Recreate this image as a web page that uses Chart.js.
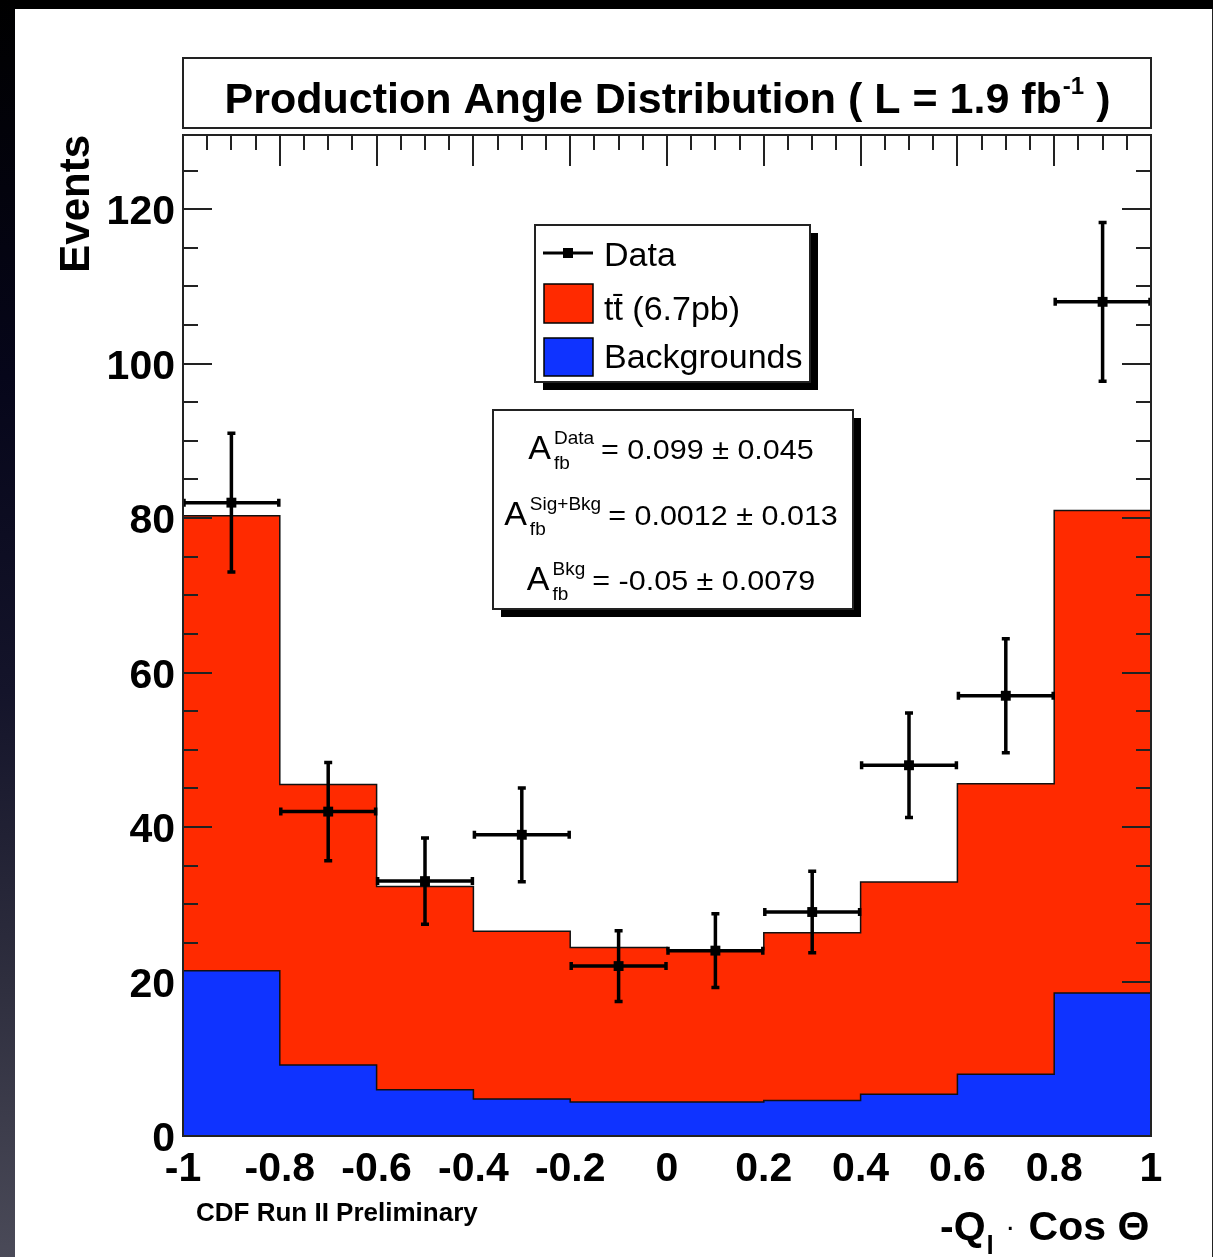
<!DOCTYPE html>
<html>
<head>
<meta charset="utf-8">
<title>Production Angle Distribution</title>
<script src="https://cdn.jsdelivr.net/npm/chart.js@4.4.1/dist/chart.umd.min.js"></script>
<style>
  html, body { margin: 0; padding: 0; background: #000; overflow: hidden; }
  #strip {
    position: absolute; left: 0; top: 0; width: 15px; height: 1257px;
    background: linear-gradient(to bottom, #000 0%, #06061a 30%, #14142a 55%, #2e2e3e 78%, #4a4a58 100%);
  }
  #panel {
    position: absolute; left: 15px; top: 9px; width: 1197px; height: 1248px;
    background: #fff; border-right: 1px solid #222;
  }
  #chart { position: absolute; left: 0; top: 0; }
</style>
</head>
<body>
<div id="strip"></div>
<div id="panel"></div>
<canvas id="chart" width="1213" height="1257"></canvas>
<script>
// bins of -Q_l * cos(theta)
const binEdges = [-1, -0.8, -0.6, -0.4, -0.2, 0, 0.2, 0.4, 0.6, 0.8, 1];
const binCenters = [-0.9, -0.7, -0.5, -0.3, -0.1, 0.1, 0.3, 0.5, 0.7, 0.9];

// observed events and their errors
const dataCounts = [82, 42, 33, 39, 22, 24, 29, 48, 57, 108];
const dataErrors = [9.1, 6.5, 5.7, 6.2, 4.7, 4.9, 5.4, 6.9, 7.5, 10.4];

// expectations (stacked)
const bkgValues = [21.4, 9.2, 6.0, 4.8, 4.4, 4.4, 4.6, 5.4, 8.0, 18.5];
const ttbarValues = [58.9, 36.3, 26.3, 21.7, 20.0, 19.7, 21.7, 27.5, 37.6, 62.5];

const legendLabels = ['Data', 'tt\u0304 (6.7pb)', 'Backgrounds'];
const afbNames = ['Data', 'Sig+Bkg', 'Bkg'];
const afbValues = ['0.099 \u00b1 0.045', '0.0012 \u00b1 0.013', '-0.05 \u00b1 0.0079'];

const FONT = '"Liberation Sans", Arial, Helvetica, sans-serif';
const RED = '#ff2a00';
const BLUE = '#0f33ff';

// histogram as a step line: one point per left edge, plus the closing edge
function stepPoints(values) {
    const pts = values.map((v, i) => ({ x: binEdges[i], y: v }));
    pts.push({ x: binEdges[binEdges.length - 1], y: values[values.length - 1] });
    return pts;
}

function drawAxisTicks(chart) {
    const { ctx, chartArea: a, scales: { x, y } } = chart;
    ctx.save();
    ctx.strokeStyle = '#222';
    ctx.lineWidth = 2;
    ctx.beginPath();
    for (let i = 0; i <= 40; i++) {
        const px = Math.round(x.getPixelForValue(-1 + i * 0.05));
        const len = i % 4 === 0 ? 31 : 15;
        ctx.moveTo(px, a.top); ctx.lineTo(px, a.top + len);
        ctx.moveTo(px, a.bottom); ctx.lineTo(px, a.bottom - len);
    }
    for (let v = 0; v <= 125; v += 5) {
        const py = Math.round(y.getPixelForValue(v));
        const len = v % 20 === 0 ? 29 : 15;
        ctx.moveTo(a.left, py); ctx.lineTo(a.left + len, py);
        ctx.moveTo(a.right, py); ctx.lineTo(a.right - len, py);
    }
    ctx.stroke();
    ctx.restore();
}

function drawErrorBars(chart) {
    const { ctx, scales: { x, y } } = chart;
    ctx.save();
    ctx.strokeStyle = '#000';
    ctx.lineWidth = 3.5;
    binCenters.forEach((c, i) => {
        const cx = x.getPixelForValue(c);
        const cy = y.getPixelForValue(dataCounts[i]);
        const x0 = x.getPixelForValue(binEdges[i]);
        const x1 = x.getPixelForValue(binEdges[i + 1]);
        const yt = y.getPixelForValue(dataCounts[i] + dataErrors[i]);
        const yb = y.getPixelForValue(dataCounts[i] - dataErrors[i]);
        ctx.beginPath();
        ctx.moveTo(x0, cy); ctx.lineTo(x1, cy);
        ctx.moveTo(cx, yt); ctx.lineTo(cx, yb);
        ctx.moveTo(x0 + 1, cy - 4); ctx.lineTo(x0 + 1, cy + 4);
        ctx.moveTo(x1 - 1, cy - 4); ctx.lineTo(x1 - 1, cy + 4);
        ctx.moveTo(cx - 4, yt + 1); ctx.lineTo(cx + 4, yt + 1);
        ctx.moveTo(cx - 4, yb - 1); ctx.lineTo(cx + 4, yb - 1);
        ctx.stroke();
    });
    ctx.restore();
}

function shadowBox(ctx, x, y, w, h, off) {
    ctx.fillStyle = '#000';
    ctx.fillRect(x + off, y + off, w, h);
    ctx.fillStyle = '#fff';
    ctx.fillRect(x, y, w, h);
    ctx.strokeStyle = '#222';
    ctx.lineWidth = 2;
    ctx.strokeRect(x, y, w, h);
}

// A_fb^{name} = value, centred on cx
function afbRow(ctx, name, value, cx, base) {
    const stretch = 1.13;
    ctx.font = '34px ' + FONT;
    const wA = ctx.measureText('A').width;
    ctx.font = '19px ' + FONT;
    const wSup = ctx.measureText(name).width;
    const wSub = ctx.measureText('fb').width;
    ctx.font = '27px ' + FONT;
    const wVal = ctx.measureText('= ' + value).width * stretch;
    const wScript = Math.max(wSup, wSub);
    const total = wA + 3 + wScript + 7 + wVal;
    let xx = cx - total / 2;
    ctx.fillStyle = '#000';
    ctx.textAlign = 'left';
    ctx.textBaseline = 'alphabetic';
    ctx.font = '34px ' + FONT;
    ctx.fillText('A', xx, base);
    xx += wA + 3;
    ctx.font = '19px ' + FONT;
    ctx.fillText(name, xx, base - 15);
    ctx.fillText('fb', xx, base + 10);
    xx += wScript + 7;
    ctx.save();
    ctx.translate(xx, base);
    ctx.scale(stretch, 1);
    ctx.font = '27px ' + FONT;
    ctx.fillText('= ' + value, 0, 0);
    ctx.restore();
}

function drawDecor(chart) {
    const { ctx, chartArea: a } = chart;
    const ds = chart.data.datasets;
    ctx.save();

    // frame
    ctx.strokeStyle = '#222';
    ctx.lineWidth = 2;
    ctx.strokeRect(a.left, a.top, a.right - a.left, a.bottom - a.top);

    // title box
    ctx.fillStyle = '#fff';
    ctx.fillRect(a.left, 58, a.right - a.left, 70);
    ctx.strokeRect(a.left, 58, a.right - a.left, 70);
    ctx.fillStyle = '#000';
    ctx.textBaseline = 'alphabetic';
    ctx.textAlign = 'left';
    const t1 = 'Production Angle Distribution ( L = 1.9 fb';
    const t2 = '-1';
    const t3 = ' )';
    ctx.font = 'bold 43px ' + FONT;
    const w1 = ctx.measureText(t1).width, w3 = ctx.measureText(t3).width;
    ctx.font = 'bold 24px ' + FONT;
    const w2 = ctx.measureText(t2).width;
    let tx = (a.left + a.right) / 2 - (w1 + w2 + w3) / 2;
    ctx.font = 'bold 43px ' + FONT;
    ctx.fillText(t1, tx, 113);
    ctx.font = 'bold 24px ' + FONT;
    ctx.fillText(t2, tx + w1 + 1, 94);
    ctx.font = 'bold 43px ' + FONT;
    ctx.fillText(t3, tx + w1 + w2 + 1, 113);

    // legend
    shadowBox(ctx, 535, 225, 275, 157, 8);
    ctx.strokeStyle = '#000';
    ctx.lineWidth = 3;
    ctx.beginPath();
    ctx.moveTo(543, 253); ctx.lineTo(593, 253);
    ctx.stroke();
    ctx.fillStyle = '#000';
    ctx.fillRect(563, 248, 10, 10);
    ctx.lineWidth = 1.5;
    ctx.fillStyle = ds[2].backgroundColor;
    ctx.fillRect(544, 284, 49, 39);
    ctx.strokeRect(544, 284, 49, 39);
    ctx.fillStyle = ds[1].backgroundColor;
    ctx.fillRect(544, 338, 49, 38);
    ctx.strokeRect(544, 338, 49, 38);
    ctx.fillStyle = '#000';
    ctx.font = '34px ' + FONT;
    ctx.fillText(ds[0].label, 604, 266);
    ctx.fillText(ds[2].label, 604, 320);
    ctx.fillText(ds[1].label, 604, 368);

    // asymmetry box
    shadowBox(ctx, 493, 410, 360, 199, 8);
    const rowBase = [459, 525, 590];
    afbNames.forEach((n, i) => afbRow(ctx, n, afbValues[i], 671, rowBase[i]));

    // axis titles
    ctx.fillStyle = '#000';
    ctx.save();
    ctx.translate(89, 135);
    ctx.rotate(-Math.PI / 2);
    ctx.textAlign = 'right';
    ctx.font = 'bold 42px ' + FONT;
    ctx.fillText('Events', 0, 0);
    ctx.restore();

    ctx.textAlign = 'left';
    ctx.font = 'bold 41px ' + FONT;
    ctx.fillText('-Q', 940, 1240);
    let qx = 940 + ctx.measureText('-Q').width + 1;
    ctx.font = 'bold 26px ' + FONT;
    ctx.fillText('l', qx, 1254);
    qx += ctx.measureText('l').width;
    ctx.font = 'bold 41px ' + FONT;
    const sp = ctx.measureText(' ').width;
    ctx.font = '30px ' + FONT;
    ctx.fillText('\u00b7', qx + sp, 1236);
    const dotW = ctx.measureText('\u00b7').width;
    ctx.font = 'bold 41px ' + FONT;
    ctx.fillText(' Cos \u0398', qx + sp + dotW + 2, 1240);

    ctx.font = 'bold 26px ' + FONT;
    ctx.fillText('CDF Run II Preliminary', 196, 1221);

    ctx.restore();
}

const rootStylePlugin = {
    id: 'rootStyle',
    afterDatasetDraw(chart, args) {
        // ticks sit above the signal fill but under the background fill
        if (args.index === 2) drawAxisTicks(chart);
    },
    afterDatasetsDraw(chart) {
        drawErrorBars(chart);
    },
    afterDraw(chart) {
        drawDecor(chart);
    }
};

new Chart(document.getElementById('chart'), {
    type: 'line',
    data: {
        datasets: [
            {
                type: 'scatter',
                label: legendLabels[0],
                stack: 'data',
                data: binCenters.map((c, i) => ({ x: c, y: dataCounts[i] })),
                pointStyle: 'rect',
                pointRadius: 7,
                backgroundColor: '#000',
                borderColor: '#000',
                borderWidth: 0
            },
            {
                label: legendLabels[2],
                data: stepPoints(bkgValues),
                stepped: 'before',
                fill: 'origin',
                backgroundColor: BLUE,
                borderColor: '#111',
                borderWidth: 1.5,
                pointRadius: 0
            },
            {
                label: legendLabels[1],
                data: stepPoints(ttbarValues),
                stepped: 'before',
                fill: '-1',
                backgroundColor: RED,
                borderColor: '#111',
                borderWidth: 1.5,
                pointRadius: 0
            }
        ]
    },
    options: {
        responsive: false,
        animation: false,
        events: [],
        layout: {
            padding: { left: 83, right: 62, top: 135, bottom: 61 }
        },
        scales: {
            x: {
                type: 'linear',
                min: -1,
                max: 1,
                grid: { display: false, drawTicks: false },
                border: { display: false },
                afterFit: (scale) => { scale.height = 60; },
                ticks: {
                    stepSize: 0.2,
                    autoSkip: false,
                    maxRotation: 0,
                    padding: 9,
                    color: '#000',
                    font: { family: FONT, size: 41, weight: 'bold' },
                    callback: (v) => String(Math.round(v * 10) / 10)
                }
            },
            y: {
                stacked: true,
                min: 0,
                max: 129.6,
                grid: { display: false, drawTicks: false },
                border: { display: false },
                afterFit: (scale) => { scale.width = 100; },
                ticks: {
                    stepSize: 20,
                    includeBounds: false,
                    autoSkip: false,
                    padding: 8,
                    labelOffset: 4,
                    color: '#000',
                    font: { family: FONT, size: 41, weight: 'bold' }
                }
            }
        },
        plugins: {
            legend: { display: false },
            tooltip: { enabled: false },
            title: { display: false }
        }
    },
    plugins: [rootStylePlugin]
});
</script>
</body>
</html>
